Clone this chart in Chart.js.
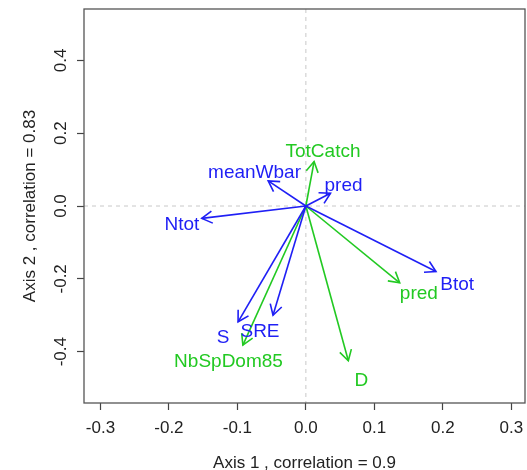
<!DOCTYPE html>
<html>
<head>
<meta charset="utf-8">
<script src="https://cdn.jsdelivr.net/npm/chart.js@4/dist/chart.umd.min.js"></script>
<style>
  html, body { margin: 0; padding: 0; background: #fff; }
  #wrap { width: 527px; height: 470px; }
</style>
</head>
<body>
<div id="wrap"><canvas id="biplot"></canvas></div>
<script>
// blue arrows
const blueNames = ['meanWbar', 'pred', 'Ntot', 'Btot', 'S', 'SRE']
const blueX = [-0.055, 0.036, -0.152, 0.190, -0.099, -0.048]
const blueY = [0.069, 0.035, -0.034, -0.180, -0.318, -0.300]
const blueLabelX = [-0.075, 0.055, -0.181, 0.221, -0.121, -0.067]
const blueLabelY = [0.090, 0.056, -0.052, -0.215, -0.363, -0.345]

// green arrows
const greenNames = ['TotCatch', 'pred', 'NbSpDom85', 'D']
const greenX = [0.012, 0.137, -0.092, 0.062]
const greenY = [0.122, -0.211, -0.382, -0.425]
const greenLabelX = [0.025, 0.165, -0.113, 0.081]
const greenLabelY = [0.149, -0.240, -0.428, -0.481]

const xTicks = [-0.3, -0.2, -0.1, 0.0, 0.1, 0.2, 0.3]
const yTicks = [-0.4, -0.2, 0.0, 0.2, 0.4]

const blue = '#1f1ff5'
const green = '#22c922'
const fontName = '"Liberation Sans", Arial, sans-serif'

const datasets = []
function addArrows(names, xs, ys, lx, ly, color) {
  names.forEach((n, i) => {
    datasets.push({
      label: n,
      data: [{x: 0, y: 0}, {x: xs[i], y: ys[i]}],
      showLine: true,
      borderColor: color,
      borderWidth: 1.6,
      pointRadius: 0,
      text: n,
      textX: lx[i],
      textY: ly[i]
    })
  })
}
addArrows(blueNames, blueX, blueY, blueLabelX, blueLabelY, blue)
addArrows(greenNames, greenX, greenY, greenLabelX, greenLabelY, green)

const biplotDeco = {
  id: 'biplotDeco',
  beforeDatasetsDraw(chart) {
    const {ctx, chartArea: a, scales: {x, y}} = chart
    ctx.save()
    ctx.strokeStyle = '#c8c8c8'
    ctx.lineWidth = 1
    ctx.setLineDash([4, 4])
    const x0 = x.getPixelForValue(0), y0 = y.getPixelForValue(0)
    ctx.beginPath()
    ctx.moveTo(x0, a.top); ctx.lineTo(x0, a.bottom)
    ctx.moveTo(a.left, y0); ctx.lineTo(a.right, y0)
    ctx.stroke()
    ctx.restore()
  },
  afterDatasetsDraw(chart) {
    const {ctx, chartArea: a, scales: {x, y}} = chart
    ctx.save()
    // arrow heads
    chart.data.datasets.forEach(ds => {
      const p0 = ds.data[0], p1 = ds.data[1]
      const px0 = x.getPixelForValue(p0.x), py0 = y.getPixelForValue(p0.y)
      const px1 = x.getPixelForValue(p1.x), py1 = y.getPixelForValue(p1.y)
      const ang = Math.atan2(py1 - py0, px1 - px0)
      const len = 12, spread = Math.PI / 6
      ctx.strokeStyle = ds.borderColor
      ctx.lineWidth = 1.6
      ctx.beginPath()
      ctx.moveTo(px1 - len * Math.cos(ang - spread), py1 - len * Math.sin(ang - spread))
      ctx.lineTo(px1, py1)
      ctx.lineTo(px1 - len * Math.cos(ang + spread), py1 - len * Math.sin(ang + spread))
      ctx.stroke()
    })
    // labels
    ctx.font = '19px ' + fontName
    ctx.textAlign = 'center'
    ctx.textBaseline = 'middle'
    chart.data.datasets.forEach(ds => {
      ctx.fillStyle = ds.borderColor
      ctx.fillText(ds.text, x.getPixelForValue(ds.textX), y.getPixelForValue(ds.textY))
    })
    // box
    ctx.strokeStyle = '#555'
    ctx.lineWidth = 1.3
    ctx.strokeRect(a.left, a.top, a.right - a.left, a.bottom - a.top)
    // y tick labels, rotated like R
    ctx.fillStyle = '#222'
    ctx.font = '17px ' + fontName
    yTicks.forEach(v => {
      ctx.save()
      ctx.translate(61, y.getPixelForValue(v))
      ctx.rotate(-Math.PI / 2)
      ctx.fillText(v.toFixed(1), 0, 0)
      ctx.restore()
    })
    ctx.restore()
  }
}

new Chart(document.getElementById('biplot'), {
  type: 'scatter',
  data: { datasets: datasets },
  options: {
    responsive: true,
    maintainAspectRatio: false,
    animation: false,
    layout: { padding: { top: 9, right: 2, left: 0, bottom: 0 } },
    plugins: { legend: { display: false }, tooltip: { enabled: false } },
    scales: {
      x: {
        min: -0.324,
        max: 0.32,
        afterBuildTicks: s => { s.ticks = xTicks.map(v => ({value: v})) },
        afterFit: s => { s.height = 67; s.paddingLeft = 0; s.paddingRight = 0 },
        ticks: {
          padding: 8,
          color: '#222',
          font: { family: fontName, size: 17 },
          callback: v => Number(v).toFixed(1)
        },
        grid: { drawOnChartArea: false, tickLength: 7, tickColor: '#444', tickWidth: 1.2 },
        border: { display: false },
        title: {
          display: true,
          text: 'Axis 1 , correlation = 0.9',
          color: '#222',
          font: { family: fontName, size: 17, lineHeight: 0.8 },
          padding: { top: 0, bottom: 0 }
        }
      },
      y: {
        min: -0.541,
        max: 0.541,
        afterBuildTicks: s => { s.ticks = yTicks.map(v => ({value: v})) },
        afterFit: s => { s.width = 84; s.paddingTop = 0; s.paddingBottom = 0 },
        ticks: {
          color: 'rgba(0,0,0,0)',
          font: { family: fontName, size: 17 },
          callback: v => Number(v).toFixed(1)
        },
        grid: { drawOnChartArea: false, tickLength: 7, tickColor: '#444', tickWidth: 1.2 },
        border: { display: false },
        title: {
          display: true,
          text: 'Axis 2 , correlation = 0.83',
          color: '#222',
          font: { family: fontName, size: 17, lineHeight: 1.2 },
          padding: { top: 20, bottom: 0 }
        }
      }
    }
  },
  plugins: [biplotDeco]
})
</script>
</body>
</html>
